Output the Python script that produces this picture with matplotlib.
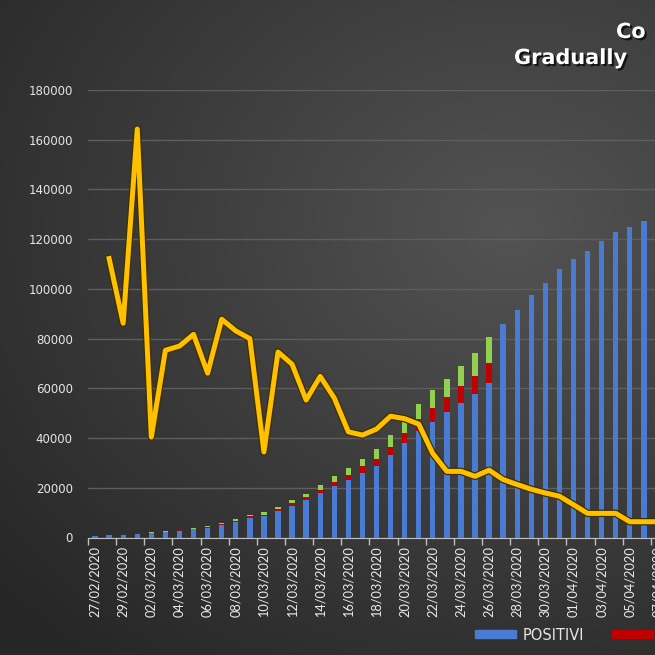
import matplotlib
matplotlib.use('Agg')
import matplotlib.pyplot as plt
import matplotlib.patheffects as pe
from matplotlib.colors import LinearSegmentedColormap
from matplotlib.patches import Patch
import numpy as np

# ---- data ----
dates = ['27/02/2020', '28/02/2020', '29/02/2020', '01/03/2020', '02/03/2020',
         '03/03/2020', '04/03/2020', '05/03/2020', '06/03/2020', '07/03/2020',
         '08/03/2020', '09/03/2020', '10/03/2020', '11/03/2020', '12/03/2020',
         '13/03/2020', '14/03/2020', '15/03/2020', '16/03/2020', '17/03/2020',
         '18/03/2020', '19/03/2020', '20/03/2020', '21/03/2020', '22/03/2020',
         '23/03/2020', '24/03/2020', '25/03/2020', '26/03/2020', '27/03/2020',
         '28/03/2020', '29/03/2020', '30/03/2020', '31/03/2020', '01/04/2020',
         '02/04/2020', '03/04/2020', '04/04/2020', '05/04/2020', '06/04/2020',
         '07/04/2020']

positivi = [590, 820, 1050, 1580, 1840, 2260, 2710, 3300, 3920, 5060,
            6390, 7990, 8510, 10590, 12840, 14960, 17750, 20600, 23070, 26060,
            28710, 33190, 37860, 42680, 46640, 50420, 54030, 57520, 62010, 86000,
            91600, 97400, 102500, 107900, 112000, 115400, 119100, 122700, 124900, 127300,
            129500]

deceduti = [17, 21, 29, 34, 52, 79, 107, 148, 197, 233,
            366, 463, 631, 827, 1016, 1266, 1441, 1809, 2158, 2503,
            2978, 3405, 4032, 4825, 5476, 6077, 6820, 7503, 8165, 0,
            0, 0, 0, 0, 0, 0, 0, 0, 0, 0,
            0]

guariti = [45, 46, 50, 83, 149, 160, 276, 414, 523, 589,
           622, 724, 1004, 1045, 1258, 1439, 1966, 2335, 2749, 2941,
           4025, 4440, 5129, 6072, 7024, 7432, 8326, 9362, 10361, 0,
           0, 0, 0, 0, 0, 0, 0, 0, 0, 0,
           0]

crescita = [np.nan, 112200, 86200, 164300, 40400, 75300, 77000, 81700, 66100, 87800,
            83100, 80000, 34400, 74600, 69700, 55300, 64800, 56100, 42500, 41200,
            43600, 48800, 47800, 45600, 33800, 26600, 26600, 24600, 27100, 23300,
            21300, 19400, 17900, 16600, 13200, 9700, 9700, 9700, 6350, 6350,
            6350]

W, H = 655, 655
fig = plt.figure(figsize=(W / 100, H / 100), dpi=100)

# dark radial gradient background
bg = fig.add_axes([0, 0, 1, 1], zorder=-10)
yy, xx = np.mgrid[0:1:400j, 0:1:400j]
r = np.hypot((xx - 0.78) / 1.1, (yy - 0.35) / 0.9)
cmap = LinearSegmentedColormap.from_list('bg', ['#535353', '#3c3c3c', '#262626'])
bg.imshow(np.clip(r / 0.95, 0, 1), cmap=cmap, aspect='auto', extent=[0, 1, 1, 0])
bg.axis('off')

# plot area (extends past the right edge, like the cropped original)
ax = fig.add_axes([88 / W, (H - 537.5) / H, 577 / W, 447.5 / H])
ax.patch.set_alpha(0)

x = np.arange(len(dates))
pos = np.array(positivi)
dec = np.array(deceduti)
gua = np.array(guariti)

ax.bar(x, pos, width=0.38, color='#4a7bd2', zorder=3)
ax.bar(x, dec, width=0.38, bottom=pos, color='#c00000', zorder=3)
ax.bar(x, gua, width=0.38, bottom=pos + dec, color='#92d050', zorder=3)

ax.plot(x, crescita, color='#ffc000', lw=3.6, zorder=5,
        solid_joinstyle='round',
        path_effects=[pe.Stroke(linewidth=5.4, foreground='#3d3000'), pe.Normal()])

ax.set_xlim(-0.5, len(dates) - 0.5)
ax.set_ylim(0, 180000)
ax.set_yticks(np.arange(0, 180001, 20000))
ax.yaxis.grid(True, color='#5e5e5e', lw=1)
ax.set_axisbelow(True)
ax.tick_params(axis='y', length=0, pad=11, labelsize=8.5, labelcolor='#e6e6e6')

ax.set_xticks(x[::2])
ax.set_xticklabels(dates[::2], rotation=90, fontsize=9.2, color='#ececec',
                   family=['Lato', 'DejaVu Sans'])
ax.set_xticks(np.arange(-0.5, len(dates), 2), minor=True)
ax.tick_params(axis='x', which='major', length=0, pad=6)
ax.tick_params(axis='x', which='minor', length=5, width=1, color='#bfbfbf')

for s in ['top', 'right', 'left']:
    ax.spines[s].set_visible(False)
ax.spines['bottom'].set_color('#bfbfbf')

# title (cut off on the right in the original)
shadow = [pe.withSimplePatchShadow(offset=(1.5, -1.5), shadow_rgbFace='black', alpha=0.7)]
fig.text(616 / W, 1 - 38 / H, 'Co', ha='left', va='baseline', fontsize=15,
         weight='bold', color='white', path_effects=shadow)
fig.text(514 / W, 1 - 64 / H, 'Gradually', ha='left', va='baseline', fontsize=15,
         weight='bold', color='white', path_effects=shadow)

handles = [Patch(color='#4a7bd2'), Patch(color='#c00000'), Patch(color='#92d050')]
fig.legend(handles, ['POSITIVI', 'DECEDUTI', 'GUARITI'], loc='center left',
           bbox_to_anchor=(475 / W, 1 - 635 / H), ncol=3, frameon=False,
           fontsize=10.5, labelcolor='#e6e6e6', handlelength=2.8, handleheight=0.45,
           handletextpad=0.5, columnspacing=1.9, borderpad=0, borderaxespad=0)

fig.savefig('out.png', dpi=100)
